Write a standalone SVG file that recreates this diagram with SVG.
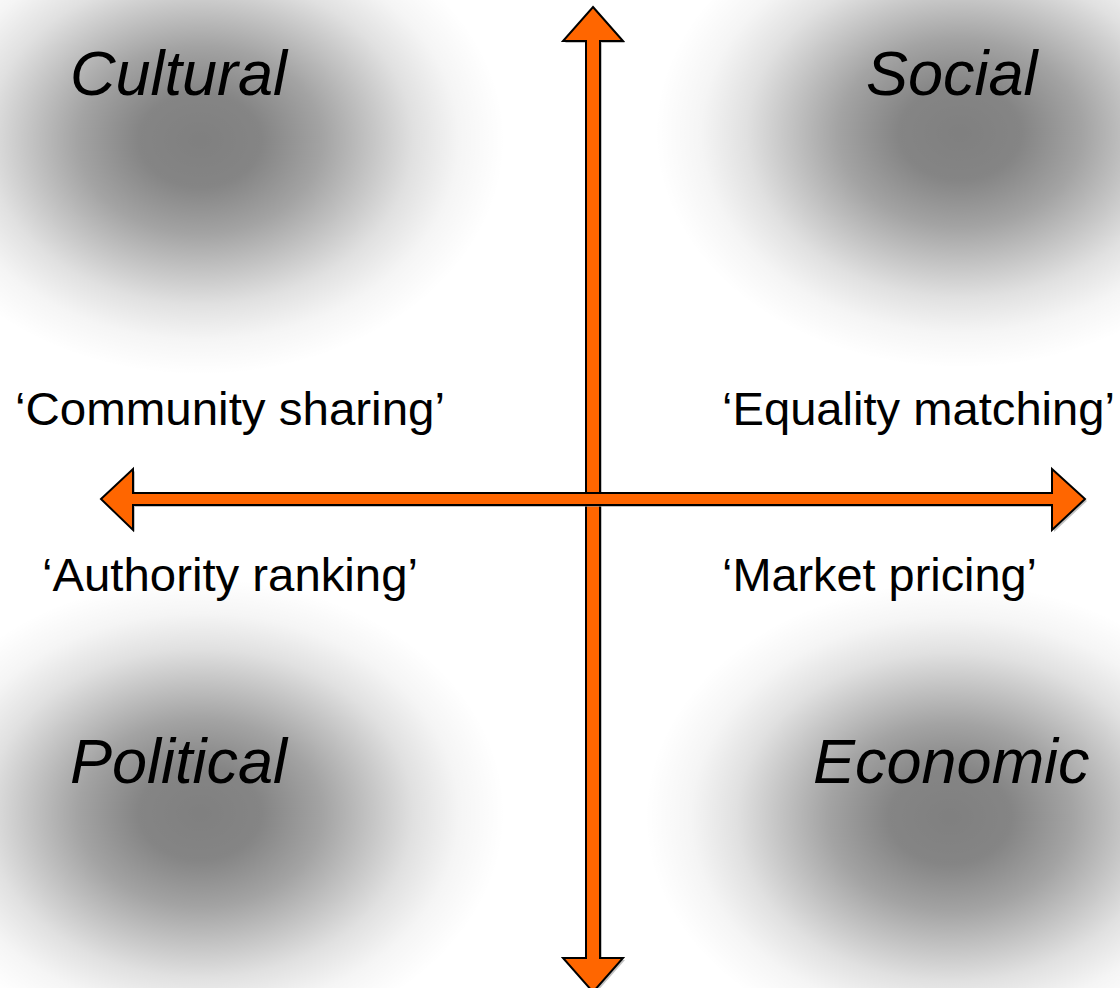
<svg xmlns="http://www.w3.org/2000/svg" width="1120" height="988" viewBox="0 0 1120 988">
<style>
.quad{font-family:"Liberation Sans",Arial,sans-serif;font-style:italic;font-size:63px;fill:#000}
.lbl{font-family:"Liberation Sans",Arial,sans-serif;font-size:46px;fill:#000}
.arrow{fill:#ff6600;stroke:#000;stroke-width:2;stroke-linejoin:miter}
.shadow{fill:#9a9a9a;opacity:0.6}
</style>
<defs>
<radialGradient id="blob" cx="0.5" cy="0.5" r="0.5">
<stop offset="0" stop-color="#000" stop-opacity="0.5"/>
<stop offset="0.2" stop-color="#000" stop-opacity="0.48"/>
<stop offset="0.4" stop-color="#000" stop-opacity="0.36"/>
<stop offset="0.55" stop-color="#000" stop-opacity="0.24"/>
<stop offset="0.7" stop-color="#000" stop-opacity="0.12"/>
<stop offset="0.85" stop-color="#000" stop-opacity="0.04"/>
<stop offset="1" stop-color="#000" stop-opacity="0"/>
</radialGradient>
</defs>
<rect width="1120" height="988" fill="#fff"/>
<g id="cultural">
<ellipse cx="200" cy="140" rx="305" ry="235" fill="url(#blob)"/>
<text class="quad" x="70" y="95">Cultural</text>
</g>
<g id="social">
<ellipse cx="960" cy="133" rx="305" ry="235" fill="url(#blob)"/>
<text class="quad" x="866" y="95">Social</text>
</g>
<g id="political">
<ellipse cx="200" cy="813" rx="305" ry="235" fill="url(#blob)"/>
<text class="quad" x="70" y="783">Political</text>
</g>
<g id="economic">
<ellipse cx="950" cy="817" rx="305" ry="235" fill="url(#blob)"/>
<text class="quad" x="813" y="783">Economic</text>
</g>
<g id="connectors">
<polygon class="shadow" transform="translate(2,2)" points="593,7 623,41 600,41 600,958 623,958 593,992 563,958 586,958 586,41 563,41"/>
<polygon class="arrow" points="593,7 623,41 600,41 600,958 623,958 593,992 563,958 586,958 586,41 563,41"/>
<polygon class="shadow" transform="translate(2,2)" points="101,499 133,469 133,493 1052,493 1052,469 1085,499 1052,530 1052,505 133,505 133,530"/>
<polygon class="arrow" points="101,499 133,469 133,493 1052,493 1052,469 1085,499 1052,530 1052,505 133,505 133,530"/>
</g>
<g id="labels">
<text class="lbl" x="15" y="425" textLength="430" lengthAdjust="spacingAndGlyphs">‘Community sharing’</text>
<text class="lbl" x="42" y="591" textLength="376" lengthAdjust="spacingAndGlyphs">‘Authority ranking’</text>
<text class="lbl" x="722" y="425" textLength="393" lengthAdjust="spacingAndGlyphs">‘Equality matching’</text>
<text class="lbl" x="722" y="591" textLength="315" lengthAdjust="spacingAndGlyphs">‘Market pricing’</text>
</g>
</svg>
